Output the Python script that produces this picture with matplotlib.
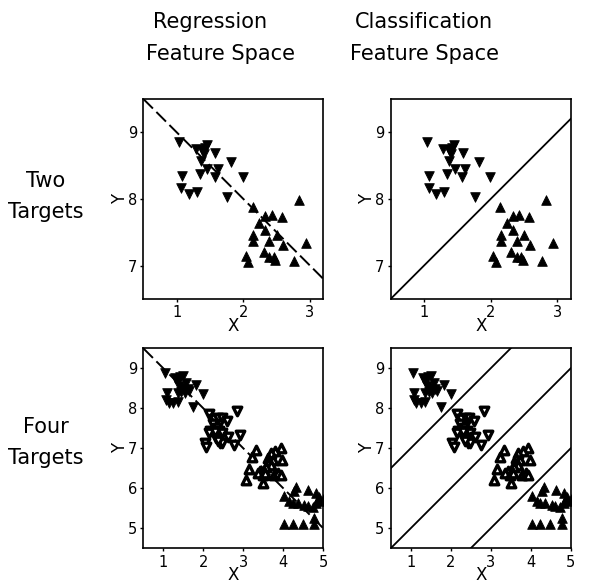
import matplotlib
matplotlib.use("Agg")
import matplotlib.pyplot as plt
import numpy as np

plt.rcParams['font.family'] = ['DejaVu Sans']

# ---------------- data ----------------
# Two targets (same points in both top panels)
two_down_x = [1.04, 1.08, 1.07, 1.18, 1.30, 1.29, 1.38, 1.45, 1.42, 1.41, 1.37, 1.35, 1.46, 1.58, 1.62, 1.57, 1.82, 1.99, 1.76]
two_down_y = [8.86, 8.34, 8.16, 8.08, 8.11, 8.75, 8.73, 8.81, 8.76, 8.68, 8.57, 8.37, 8.45, 8.69, 8.45, 8.33, 8.56, 8.33, 8.03]
two_up_x = [2.14, 2.24, 2.33, 2.43, 2.575, 2.33, 2.15, 2.15, 2.39, 2.50, 2.59, 2.31, 2.39, 2.46, 2.48, 2.04, 2.075, 2.765, 2.935, 2.83]
two_up_y = [7.875, 7.645, 7.74, 7.76, 7.735, 7.535, 7.465, 7.375, 7.375, 7.46, 7.31, 7.20, 7.135, 7.135, 7.08, 7.15, 7.055, 7.07, 7.335, 7.985]

# Four targets (same points in both bottom panels)
four_c1_x = [1.05, 1.30, 1.42, 1.50, 1.36, 1.57, 1.47, 1.61, 1.82, 2.00, 1.08, 1.36, 1.53, 1.65, 1.07, 1.13, 1.25, 1.36, 1.75, 1.40, 1.45]
four_c1_y = [8.875, 8.75, 8.79, 8.81, 8.67, 8.625, 8.50, 8.475, 8.58, 8.35, 8.375, 8.375, 8.375, 8.42, 8.21, 8.125, 8.125, 8.15, 8.025, 8.55, 8.40]
four_c2_x = [2.84, 2.15, 2.26, 2.37, 2.46, 2.59, 2.23, 2.34, 2.17, 2.15, 2.40, 2.48, 2.61, 2.92, 2.32, 2.42, 2.48, 2.76, 2.04, 2.07, 2.36, 2.30]
four_c2_y = [7.94, 7.86, 7.72, 7.75, 7.75, 7.69, 7.61, 7.52, 7.42, 7.37, 7.42, 7.37, 7.29, 7.33, 7.25, 7.14, 7.12, 7.07, 7.12, 7.04, 7.17, 7.40]
four_c3_x = [3.32, 3.94, 3.80, 3.69, 3.63, 3.23, 3.98, 3.73, 3.61, 3.69, 3.57, 3.15, 3.42, 3.36, 3.48, 3.55, 3.77, 3.88, 3.94, 3.07, 3.50]
four_c3_y = [6.96, 7.00, 6.94, 6.87, 6.77, 6.79, 6.71, 6.71, 6.64, 6.58, 6.54, 6.47, 6.42, 6.37, 6.33, 6.37, 6.33, 6.37, 6.33, 6.22, 6.14]
four_c4_x = [4.32, 4.27, 4.63, 4.82, 4.90, 4.02, 4.15, 4.23, 4.36, 4.52, 4.61, 4.73, 4.82, 4.86, 4.98, 5.02, 4.77, 4.77, 4.02, 4.23, 4.48]
four_c4_y = [6.04, 5.94, 5.96, 5.87, 5.79, 5.81, 5.69, 5.62, 5.62, 5.58, 5.56, 5.54, 5.62, 5.71, 5.67, 5.75, 5.25, 5.12, 5.12, 5.12, 5.12]

# boundaries
reg_slope, reg_intercept = -1.0, 10.0
cls_two_intercepts = [6.0]
cls_four_intercepts = [6.0, 4.0, 2.0]

col_titles = [("Regression", "Feature Space"), ("Classification", "Feature Space")]
row_titles = [("Two", "Targets"), ("Four", "Targets")]

# ---------------- figure ----------------
W, H = 592, 583
fig = plt.figure(figsize=(W / 100, H / 100), dpi=100)

def ax_rect(x0, y0, w, h):
    return [x0 / W, 1 - (y0 + h) / H, w / W, h / H]

axes = {
    (0, 0): fig.add_axes(ax_rect(143.3, 98.9, 180, 200)),
    (0, 1): fig.add_axes(ax_rect(390.7, 98.9, 180, 200)),
    (1, 0): fig.add_axes(ax_rect(143.3, 348.3, 180, 200)),
    (1, 1): fig.add_axes(ax_rect(390.7, 348.3, 180, 200)),
}

ms_s = 48
filled = dict(c='black', edgecolors='black', linewidths=0.6, s=ms_s, zorder=3)
hollow = dict(facecolors='white', edgecolors='black', linewidths=2.4, s=38, zorder=3)

for (r, c), ax in axes.items():
    if r == 0:
        ax.set_xlim(0.5, 3.2)
        ax.set_ylim(6.5, 9.5)
        ax.set_xticks([1, 2, 3])
        ax.set_yticks([7, 8, 9])
        ax.scatter(two_down_x, two_down_y, marker='v', **filled)
        ax.scatter(two_up_x, two_up_y, marker='^', **filled)
    else:
        ax.set_xlim(0.5, 5.0)
        ax.set_ylim(4.5, 9.5)
        ax.set_xticks([1, 2, 3, 4, 5])
        ax.set_yticks([5, 6, 7, 8, 9])
        ax.scatter(four_c1_x, four_c1_y, marker='v', **filled)
        ax.scatter(four_c2_x, four_c2_y, marker='v', **hollow)
        ax.scatter(four_c3_x, four_c3_y, marker='^', **hollow)
        ax.scatter(four_c4_x, four_c4_y, marker='^', **filled)

    xs = np.array(ax.get_xlim())
    if c == 0:
        ax.plot(xs, reg_slope * xs + reg_intercept, color='black', lw=1.4,
                dashes=(7, 2.5), zorder=2)
    else:
        ints = cls_two_intercepts if r == 0 else cls_four_intercepts
        for b in ints:
            ax.plot(xs, xs + b, color='black', lw=1.3, zorder=2)
    ax.set_xlim(*xs)

    for sp in ax.spines.values():
        sp.set_linewidth(1.2)
    ax.tick_params(direction='out', length=2.5, width=1.0, labelsize=10.5, pad=2,
                   top=False, right=False)
    ax.set_xlabel("X", fontsize=12, labelpad=-2.5)
    ax.set_ylabel("Y", fontsize=12, labelpad=-1)

# column titles
fs_title = 15
fig.text(210 / W, 1 - 22 / H, col_titles[0][0], ha='center', va='center', fontsize=fs_title)
fig.text(220 / W, 1 - 54 / H, col_titles[0][1], ha='center', va='center', fontsize=fs_title)
fig.text(424 / W, 1 - 22 / H, col_titles[1][0], ha='center', va='center', fontsize=fs_title)
fig.text(425 / W, 1 - 54 / H, col_titles[1][1], ha='center', va='center', fontsize=fs_title)

# row titles
fig.text(46 / W, 1 - 181 / H, row_titles[0][0], ha='center', va='center', fontsize=fs_title)
fig.text(46 / W, 1 - 212 / H, row_titles[0][1], ha='center', va='center', fontsize=fs_title)
fig.text(46 / W, 1 - 427 / H, row_titles[1][0], ha='center', va='center', fontsize=fs_title)
fig.text(46 / W, 1 - 458 / H, row_titles[1][1], ha='center', va='center', fontsize=fs_title)

fig.savefig("out.png", dpi=100)
